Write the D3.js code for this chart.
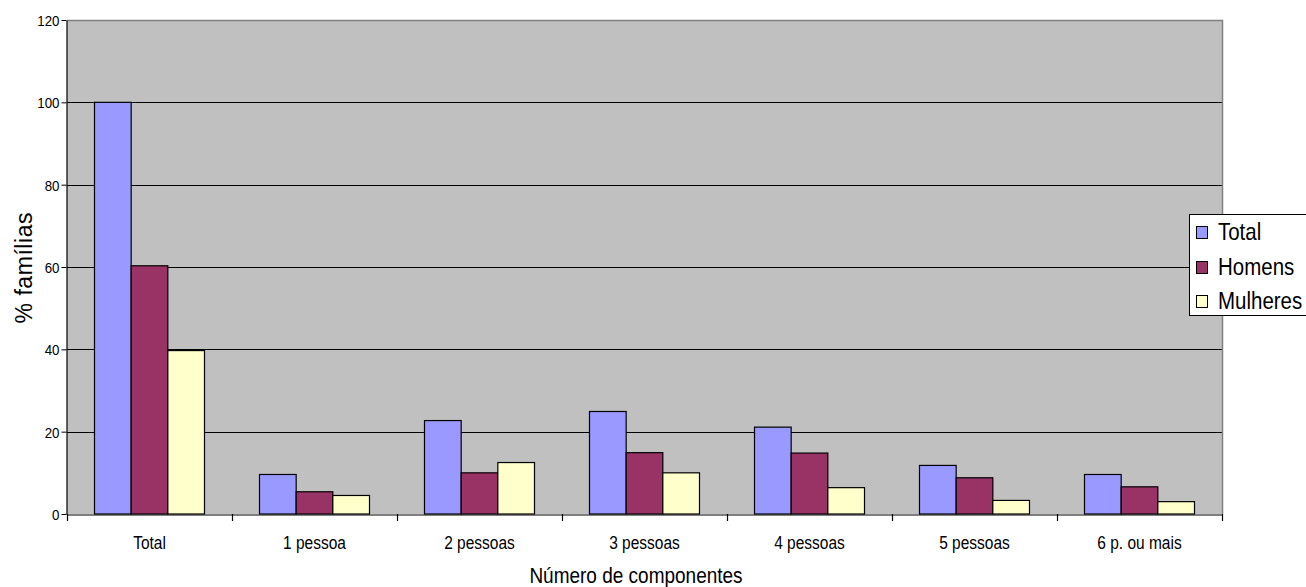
<!DOCTYPE html>
<html>
<head>
<meta charset="utf-8">
<script src="https://cdn.jsdelivr.net/npm/d3@7/dist/d3.min.js"></script>
<style>
  html, body { margin: 0; padding: 0; background: #fff; }
  svg { display: block; }
  text { font-family: "Liberation Sans", Arial, sans-serif; fill: #000; }
</style>
</head>
<body>
<svg id="chart" width="1306" height="587"></svg>
<script>
// Household size categories and share of families (%)
const categories = ["Total", "1 pessoa", "2 pessoas", "3 pessoas", "4 pessoas", "5 pessoas", "6 p. ou mais"];
const seriesNames = ["Total", "Homens", "Mulheres"];
const totalValues    = [100, 9.6, 22.7, 24.9, 21.1, 11.8, 9.6];
const homensValues   = [60.3, 5.4, 10.0, 14.9, 14.8, 8.8, 6.6];
const mulheresValues = [39.7, 4.5, 12.5, 10.0, 6.4, 3.3, 3.0];
const yTicks = [0, 20, 40, 60, 80, 100, 120];
const seriesColors = ["#9999FF", "#993366", "#FFFFCC"];

const seriesValues = [totalValues, homensValues, mulheresValues];

const svg = d3.select("#chart");
const plot = { left: 67, right: 1222, top: 20, bottom: 514 };

const x0 = d3.scaleBand().domain(categories).range([plot.left, plot.right]).padding(0);
// three bars per group with a 150% gap shared between neighbouring groups
const gapRatio = 1.5;
const barW = x0.bandwidth() / (seriesNames.length + gapRatio);
const x1 = d3.scaleBand().domain(seriesNames)
  .range([barW * gapRatio / 2, barW * gapRatio / 2 + barW * seriesNames.length]).padding(0);
const y = d3.scaleLinear().domain([0, 120]).range([plot.bottom, plot.top]);

// vertical stretch helper for text drawn around its anchor
function stretch(sel, k) {
  sel.attr("transform", function () {
    const t = d3.select(this);
    const ax = +t.attr("x"), ay = +t.attr("y");
    return `translate(${ax},${ay}) scale(1,${k}) translate(${-ax},${-ay})`;
  });
}

// plot background
svg.append("rect")
  .attr("x", plot.left).attr("y", plot.top)
  .attr("width", plot.right - plot.left).attr("height", plot.bottom - plot.top)
  .attr("fill", "#C0C0C0");

// gridlines
svg.append("g").selectAll("line")
  .data(yTicks.filter(d => d > 0 && d < 120))
  .join("line")
  .attr("x1", plot.left).attr("x2", plot.right)
  .attr("y1", d => Math.round(y(d)) + 0.5).attr("y2", d => Math.round(y(d)) + 0.5)
  .attr("stroke", "#000").attr("stroke-width", 1);

// plot frame (top and right)
svg.append("path")
  .attr("d", `M${plot.left},${plot.top + 0.5}H${plot.right + 0.5}V${plot.bottom}`)
  .attr("fill", "none").attr("stroke", "#808080").attr("stroke-width", 1.5);

// bars
const rows = categories.map((c, i) => ({ cat: c, vals: seriesNames.map((s, j) => ({ s, j, v: seriesValues[j][i] })) }));
svg.append("g").selectAll("g")
  .data(rows)
  .join("g")
  .attr("transform", d => `translate(${x0(d.cat)},0)`)
  .selectAll("rect")
  .data(d => d.vals)
  .join("rect")
  .attr("x", d => x1(d.s))
  .attr("y", d => y(d.v))
  .attr("width", x1.bandwidth())
  .attr("height", d => y(0) - y(d.v))
  .attr("fill", d => seriesColors[d.j])
  .attr("stroke", "#000").attr("stroke-width", 1.2);

// y axis
const yAxis = svg.append("g")
  .attr("transform", `translate(${plot.left - 0.5},0)`)
  .call(d3.axisLeft(y).tickValues(yTicks).tickSize(5).tickPadding(7).tickSizeOuter(0));
yAxis.select(".domain").attr("stroke", "#000").attr("stroke-width", 1.2);
yAxis.selectAll(".tick line").attr("stroke", "#000");
yAxis.selectAll(".tick text")
  .attr("font-size", 13.3).attr("font-family", "Liberation Sans, Arial, sans-serif")
  .attr("dy", "0.36em").attr("x", -7).attr("y", 0)
  .attr("transform", "scale(1,1.12)");

// x axis
const xAxis = svg.append("g")
  .attr("transform", `translate(0,${plot.bottom + 0.5})`)
  .call(d3.axisBottom(x0).tickSize(0).tickPadding(0));
xAxis.select(".domain").attr("stroke", "#000").attr("stroke-width", 1.2);
xAxis.selectAll(".tick text")
  .attr("font-size", 15.5).attr("font-family", "Liberation Sans, Arial, sans-serif")
  .attr("dy", 0).attr("y", 35)
  .attr("transform", "translate(0,35) scale(1,1.22) translate(0,-35)");
// tick marks at category boundaries
const boundaries = categories.map(c => x0(c)).concat([plot.right]);
svg.append("g").selectAll("line")
  .data(boundaries)
  .join("line")
  .attr("x1", d => Math.round(d) + 0.5).attr("x2", d => Math.round(d) + 0.5)
  .attr("y1", plot.bottom).attr("y2", plot.bottom + 7)
  .attr("stroke", "#000").attr("stroke-width", 1.2);

// axis titles
svg.append("text")
  .attr("x", 636).attr("y", 583)
  .attr("text-anchor", "middle").attr("font-size", 19)
  .text("Número de componentes")
  .call(stretch, 1.12);

svg.append("text")
  .attr("transform", "translate(32,268) rotate(-90)")
  .attr("text-anchor", "middle").attr("font-size", 23)
  .attr("textLength", 111).attr("lengthAdjust", "spacing")
  .text("% famílias");

// legend
const legend = svg.append("g");
legend.append("rect")
  .attr("x", 1189.5).attr("y", 214.5).attr("width", 130).attr("height", 101)
  .attr("fill", "#fff").attr("stroke", "#000").attr("stroke-width", 1);
const legendRowY = [240, 275, 309];
seriesNames.forEach((s, i) => {
  legend.append("rect")
    .attr("x", 1196.5).attr("y", legendRowY[i] - 13.5).attr("width", 11).attr("height", 12)
    .attr("fill", seriesColors[i]).attr("stroke", "#000").attr("stroke-width", 1);
  legend.append("text")
    .attr("x", 1218).attr("y", legendRowY[i])
    .attr("font-size", 20.5)
    .text(s)
    .call(stretch, 1.2);
});
</script>
</body>
</html>
